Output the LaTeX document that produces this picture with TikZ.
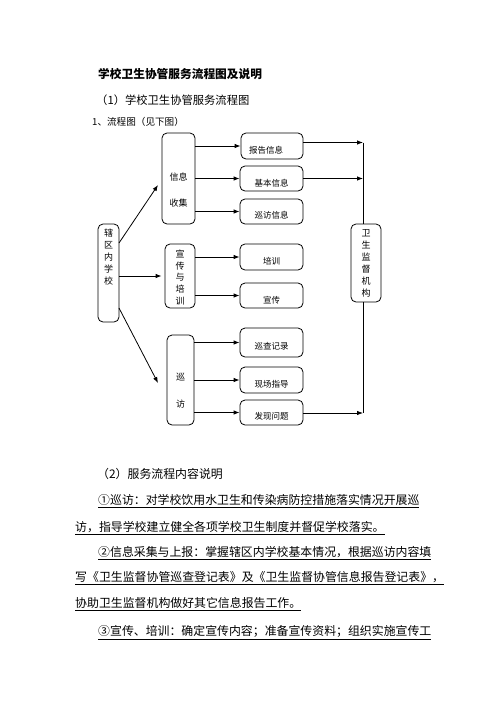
\documentclass[tikz,border=0pt]{standalone}
\usepackage{fontspec}
\setmainfont{Noto Sans CJK SC}
\usetikzlibrary{arrows.meta,calc}
\begin{document}
\begin{tikzpicture}[x=1pt,y=-1pt,
  box/.style={draw, line width=0.8pt, rounded corners=5pt, inner sep=0pt},
  lbl/.style={font=\fontsize{8.5}{10}\selectfont, inner sep=0pt},
  vlbl/.style={font=\fontsize{9}{12}\selectfont, align=center, inner sep=0pt},
  arr/.style={line width=0.8pt, -{Latex[length=6pt,width=4.5pt]}},
  ln/.style={line width=0.8pt},
  body/.style={anchor=base west, inner sep=0pt, font=\fontsize{11.9}{14}\selectfont}
]
\useasboundingbox[fill=white] (0,0) rectangle (496,702);

% headings
\node[anchor=base west, inner sep=0pt, font=\fontsize{11.7}{14}\selectfont\bfseries] (title) at (98,78.5) {学校卫生协管服务流程图及说明};
\node[anchor=base west, inner sep=0pt, font=\fontsize{11.3}{14}\selectfont] (h1) at (96,104.5) {（1）学校卫生协管服务流程图};
\node[anchor=base west, inner sep=0pt, font=\fontsize{9.6}{12}\selectfont] (h2) at (92,125.6) {1、流程图（见下图）};

% left box
\node[box, minimum width=21pt, minimum height=98pt,
  label={[vlbl, yshift=16pt]center:辖\\区\\内\\学\\校}] (xq) at (108.5,273) {};
% middle boxes
\node[box, minimum width=33pt, minimum height=91pt,
  label={[vlbl, font=\fontsize{9}{26}\selectfont, yshift=-11.5pt]center:信息\\收集}] (xx) at (178.5,178.5) {};
\node[box, minimum width=30pt, minimum height=64pt,
  label={[vlbl, font=\fontsize{9}{11.75}\selectfont, yshift=-1.5pt]center:宣\\传\\与\\培\\训}] (xc) at (180,276) {};
\node[box, minimum width=27pt, minimum height=90pt,
  label={[vlbl, font=\fontsize{9}{27}\selectfont, yshift=-10.5pt]center:巡\\访}] (xf) at (180.5,380) {};
% right box
\node[box, minimum width=30pt, minimum height=78pt,
  label={[vlbl]center:卫\\生\\监\\督\\机\\构}] (ws) at (366,263) {};

% child boxes
\node[box, minimum width=62pt, minimum height=26pt,
  label={[lbl, yshift=-4.5pt, xshift=-6pt]center:报告信息}] (bg) at (272,146) {};
\node[box, minimum width=63pt, minimum height=25pt,
  label={[lbl, yshift=-4.5pt]center:基本信息}] (jb) at (271.5,178.5) {};
\node[box, minimum width=63pt, minimum height=25pt,
  label={[lbl, yshift=-4pt]center:巡访信息}] (xfx) at (271.5,211.5) {};
\node[box, minimum width=63pt, minimum height=26pt,
  label={[lbl, yshift=-4.5pt]center:培训}] (px) at (271.5,257) {};
\node[box, minimum width=63pt, minimum height=25pt,
  label={[lbl, yshift=-5pt]center:宣传}] (xcb) at (271.5,295.5) {};
\node[box, minimum width=63pt, minimum height=29pt,
  label={[lbl, yshift=-3.5pt]center:巡查记录}] (xcj) at (271.5,342.5) {};
\node[box, minimum width=63pt, minimum height=26pt,
  label={[lbl, yshift=-4pt]center:现场指导}] (xcz) at (271.5,380) {};
\node[box, minimum width=63pt, minimum height=25pt,
  label={[lbl, yshift=-4.2pt]center:发现问题}] (fx) at (271.5,412.5) {};

% connectors from the school box
\coordinate (s1) at (119,243);
\coordinate (e1) at (158,185);
\coordinate (s3) at (119,308);
\coordinate (e3) at (158,383);
\draw[arr] (s1) -- (e1);
\draw[arr] (xq.east |- xc.west) -- ($(xc.west)+(-3,0)$);
\draw[arr] (s3) -- (e3);

% connectors to child boxes
\draw[arr] (xx.east |- bg.west) -- (bg.west);
\draw[arr] (xx.east |- jb.west) -- (jb.west);
\draw[arr] (xx.east |- xfx.west) -- (xfx.west);
\draw[arr] (xc.east |- px.west) -- (px.west);
\draw[arr] (xc.east |- xcb.west) -- (xcb.west);
\draw[arr] (xf.east |- xcj.west) -- (xcj.west);
\draw[arr] (xf.east |- xcz.west) -- (xcz.west);
\draw[arr] (xf.east |- fx.west) -- (fx.west);

% right collector line
\coordinate (vt) at (363,142.5);
\coordinate (vb) at (363,413);
\draw[ln] (vt) -- (vt |- ws.north);
\draw[ln] (vb |- ws.south) -- (vb);
\draw[arr] (bg.east |- vt) -- (vt);
\draw[arr] (jb.east) -- (jb.east -| vt);
\draw[arr] (fx.east |- vb) -- (vb);

% description text
\node[body] (p0) at (97,478.5) {（2）服务流程内容说明};
\node[body] (p1) at (98,504.5) {\underline{①巡访：对学校饮用水卫生和传染病防控措施落实情况开展巡}};
\node[body] (p2) at (75,531.5) {\underline{访，指导学校建立健全各项学校卫生制度并督促学校落实。}};
\node[body] (p3) at (98,556.5) {\underline{②信息采集与上报：掌握辖区内学校基本情况，根据巡访内容填}};
\node[body] (p4) at (75,581.5) {\underline{写《卫生监督协管巡查登记表》及《卫生监督协管信息报告登记表》，}};
\node[body] (p5) at (75,607.5) {\underline{协助卫生监督机构做好其它信息报告工作。}};
\node[body] (p6) at (98,635.5) {\underline{③宣传、培训：确定宣传内容；准备宣传资料；组织实施宣传工}};
\end{tikzpicture}
\end{document}
